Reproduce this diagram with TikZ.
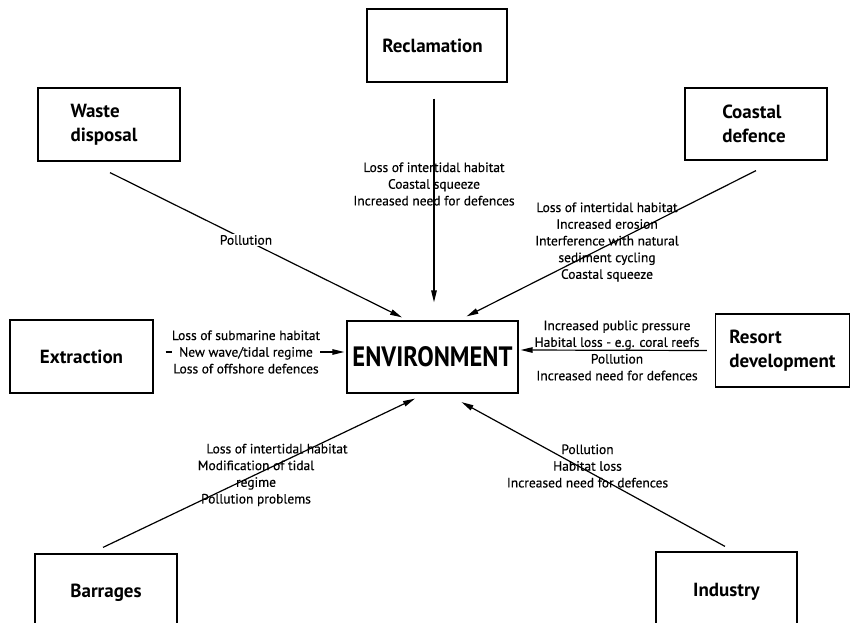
\documentclass[tikz,border=0pt]{standalone}
\usepackage{fontspec}
\setmainfont{PT Sans}
\newfontfamily\labfont[FakeBold=0.4]{PT Sans}
\usetikzlibrary{arrows.meta,calc}
\begin{document}
\begin{tikzpicture}[x=1pt,y=-1pt,
  box/.style={draw, line width=1.2pt, inner sep=0pt,
    font=\fontsize{19}{24}\selectfont\bfseries},
  conn/.style={line width=1.2pt, -{Triangle[length=12pt,width=5.5pt]}},
  lab/.style={font=\fontsize{13.5}{16.7}\selectfont\labfont, align=center, inner sep=1pt}]
\useasboundingbox (0,0) rectangle (851,623);
\clip (0,0) rectangle (851,623);

% boxes
\node[box, minimum width=171pt, minimum height=72pt] (env) at (432.5,357)
  {\resizebox{160pt}{20pt}{ENVIRONMENT}};
\node[box, minimum width=140pt, minimum height=73pt] (recl) at (437,45.5) {Reclamation\hspace*{9pt}};
\node[box, minimum width=142pt, minimum height=73pt, align=left] (waste) at (109,124.5) {Waste\\disposal\hspace*{10pt}};
\node[box, minimum width=142pt, minimum height=72pt, align=left] (coast) at (756,124) {Coastal\\defence\hspace*{4pt}};
\node[box, minimum width=143pt, minimum height=73pt] (extr) at (81.5,356.5) {Extraction};
\node[box, minimum width=134pt, minimum height=73pt, align=left] (resort) at (782.5,350.5) {Resort\\development};
\node[box, minimum width=142pt, minimum height=78pt] (barr) at (106,593) {Barrages};
\node[box, minimum width=141pt, minimum height=80pt] (ind) at (726.5,592) {Industry};

% connectors
\draw[conn] ($(waste.south)+(1,11)$) -- ($(env.north)+(-30.5,-3)$);
\draw[conn] ($(recl.south)+(-3,16)$) -- ($(env.north)+(1.5,-18)$);
\draw[conn] ($(coast.south)+(0,10)$) -- ($(env.north)+(34,-4)$);
\draw[conn] ($(extr.east)+(12,-4.5)$) -- ($(env.west)+(-2,-5)$);
\draw[conn] ($(resort.west)+(-8,0)$) -- ($(env.east)+(2,-7)$);
\draw[conn] ($(barr.north)+(-3,-6)$) -- ($(env.south)+(-17.5,5)$);
\draw[conn] ($(ind.north)+(-1.5,-5)$) -- ($(env.south)+(29,8.5)$);

% labels
\node[lab, fill=white] (pollab) at (246,240) {Pollution};
\node[lab] (recllab) at (434,184) {Loss of intertidal habitat\\Coastal squeeze\\Increased need for defences};
\node[lab] (coastlab) at (607,242) {Loss of intertidal habitat\\Increased erosion\\Interference with natural\\sediment cycling\\Coastal squeeze};
\node[lab, fill=white, inner xsep=0pt] (extrlab) at (246,352) {Loss of submarine habitat\\New wave/tidal regime\\Loss of offshore defences};
\node[lab] (resortlab) at (617,350.5) {Increased public pressure\\Habital loss - e.g. coral reefs\\Pollution\\Increased need for defences};
\node[lab] (barrlab) at (256,475) {\hspace*{42pt}Loss of intertidal habitat\\Modification of tidal\\regime\\Pollution problems};
\node[lab] (indlab) at (587.5,466) {Pollution\\Habitat loss\\Increased need for defences};
\end{tikzpicture}
\end{document}
